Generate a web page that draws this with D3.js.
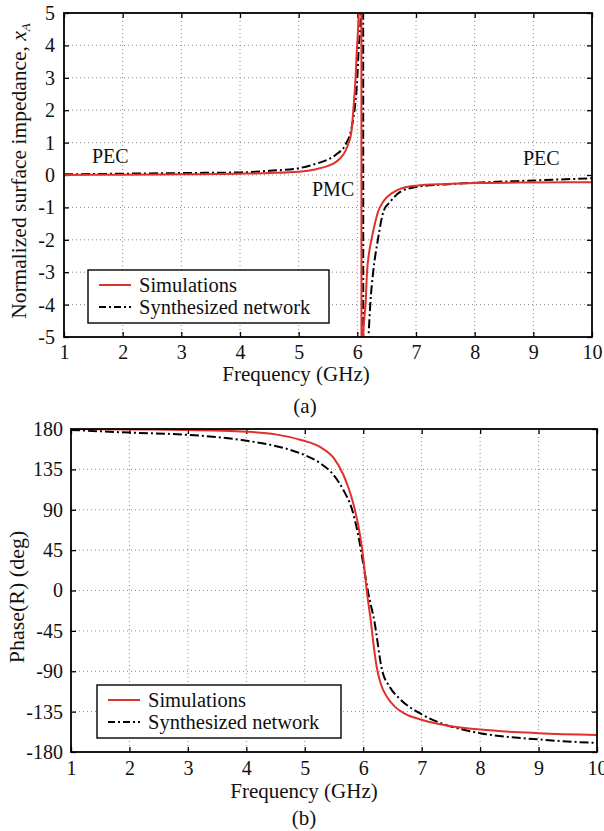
<!DOCTYPE html>
<html>
<head>
<meta charset="utf-8">
<script src="https://cdn.jsdelivr.net/npm/d3@7"></script>
<style>
  html, body { margin: 0; padding: 0; background: #fff; }
  svg text { font-family: "Liberation Serif", Tinos, "Times New Roman", Times, "DejaVu Serif", "Noto Serif", serif !important; }
</style>
</head>
<body>
<svg id="fig" width="604" height="831"></svg>
<script>
// ---- (a) normalized surface impedance x_A vs frequency ----
const freqSimA = [1, 2, 3, 4, 4.5, 5, 5.3, 5.5, 5.6, 5.7, 5.8, 5.85, 5.9, 5.94, 5.97, 5.99, 6.02, 6.04, 6.065,
                  6.075, 6.10, 6.12, 6.14, 6.165, 6.2, 6.24, 6.3, 6.35, 6.45, 6.6, 6.73, 7, 7.5, 8, 9, 10];
const simA     = [0, 0.01, 0.02, 0.04, 0.06, 0.1, 0.18, 0.28, 0.36, 0.5, 0.75, 0.98, 1.35, 2.2, 3.0, 3.8, 4.8, 6, 30,
                  -30, -5, -4.4, -4, -3, -2.4, -2, -1.5, -1.15, -0.8, -0.55, -0.43, -0.33, -0.28, -0.25, -0.23, -0.22];

const freqNetA = [1, 2, 3, 4, 4.5, 5, 5.3, 5.5, 5.65, 5.8, 5.9, 5.97, 6.0, 6.02, 6.06, 6.08, 6.095,
                  6.105, 6.16, 6.19, 6.22, 6.27, 6.35, 6.45, 6.55, 6.73, 7, 7.5, 8, 9, 10];
const netA     = [0.02, 0.04, 0.06, 0.08, 0.13, 0.21, 0.35, 0.48, 0.65, 0.94, 1.44, 2.3, 3.0, 3.8, 5, 8, 30,
                  -30, -6, -5, -4, -3, -2, -1.1, -0.85, -0.52, -0.37, -0.29, -0.24, -0.17, -0.1];

// ---- (b) reflection phase vs frequency ----
const freqSimB = [1, 2, 3, 4, 4.5, 4.92, 5.26, 5.49, 5.66, 5.75, 5.83, 5.95, 6.0, 6.06, 6.13, 6.18, 6.23, 6.3,
                  6.41, 6.55, 6.7, 7, 7.38, 8, 9, 10];
const simB     = [180, 179.5, 179, 177, 174, 168, 160, 148, 129, 114, 97, 60, 37, 0, -34, -62, -85, -104,
                  -119, -130, -137, -144, -150, -155, -159, -161];

const freqNetB = [1, 2, 3, 4, 4.5, 4.92, 5.26, 5.49, 5.66, 5.81, 5.92, 6.0, 6.09, 6.19, 6.32, 6.46, 6.63,
                  7, 7.38, 8, 9, 10];
const netB     = [179, 176, 173.5, 167, 161, 153, 142, 129, 112, 90, 60, 30, -4, -34, -88, -108, -121,
                  -138, -149, -159, -166, -170];

const freqTicks = [1, 2, 3, 4, 5, 6, 7, 8, 9, 10];
const impTicks = [-5, -4, -3, -2, -1, 0, 1, 2, 3, 4, 5];
const phaseTicks = [-180, -135, -90, -45, 0, 45, 90, 135, 180];
const seriesNames = ["Simulations", "Synthesized network"];

const RED = "#e0312b";
const DASHDOT = "9,3,2,3";
const svg = d3.select("#fig");

function panel(opts) {
  const { x, y, xTicks, yTicks, xPad, yPad, id } = opts;
  const [x0, x1] = x.range();
  const [y0, y1] = y.range(); // y0 bottom, y1 top
  const g = svg.append("g");

  // dotted grid
  g.append("g").selectAll("line").data(xTicks.slice(1, -1)).join("line")
    .attr("x1", d => x(d)).attr("x2", d => x(d)).attr("y1", y1).attr("y2", y0)
    .attr("stroke", "#8a8a8a").attr("stroke-width", 1).attr("stroke-dasharray", "1,3");
  g.append("g").selectAll("line").data(yTicks.slice(1, -1)).join("line")
    .attr("x1", x0).attr("x2", x1).attr("y1", d => y(d)).attr("y2", d => y(d))
    .attr("stroke", "#8a8a8a").attr("stroke-width", 1).attr("stroke-dasharray", "1,3");

  // axes with inward ticks on all four sides
  const axB = g.append("g").attr("transform", `translate(0,${y0})`)
    .call(d3.axisBottom(x).tickValues(xTicks).tickSize(-5).tickPadding(xPad).tickFormat(d3.format("d")));
  const axL = g.append("g").attr("transform", `translate(${x0},0)`)
    .call(d3.axisLeft(y).tickValues(yTicks).tickSize(-5).tickPadding(yPad).tickFormat(d => String(d)));
  const axT = g.append("g").attr("transform", `translate(0,${y1})`)
    .call(d3.axisTop(x).tickValues(xTicks).tickSize(-5).tickFormat(""));
  const axR = g.append("g").attr("transform", `translate(${x1},0)`)
    .call(d3.axisRight(y).tickValues(yTicks).tickSize(-5).tickFormat(""));
  [axB, axL, axT, axR].forEach(a => {
    a.select(".domain").remove();
    a.selectAll(".tick line").attr("stroke", "#000").attr("stroke-width", 1.3);
    a.selectAll("text").attr("font-size", 20).attr("fill", "#111");
  });

  // clip region for the curves
  svg.append("clipPath").attr("id", id).append("rect")
    .attr("x", x0).attr("y", y1).attr("width", x1 - x0).attr("height", y0 - y1);

  return { g, frame: () => g.append("rect").attr("x", x0).attr("y", y1)
      .attr("width", x1 - x0).attr("height", y0 - y1)
      .attr("fill", "none").attr("stroke", "#000").attr("stroke-width", 1.8) };
}

function curve(p, x, y, fx, fy, id, color, dash) {
  const line = d3.line().x((d, i) => x(fx[i])).y(d => y(d)).curve(d3.curveMonotoneX);
  p.g.append("path").datum(fy).attr("d", line)
    .attr("clip-path", `url(#${id})`)
    .attr("fill", "none").attr("stroke", color).attr("stroke-width", 2)
    .attr("stroke-dasharray", dash || null).attr("stroke-linejoin", "round");
}

function legend(g, lx, ly, w, h) {
  const lg = g.append("g");
  lg.append("rect").attr("x", lx).attr("y", ly).attr("width", w).attr("height", h)
    .attr("fill", "#fff").attr("stroke", "#000").attr("stroke-width", 1.4);
  const styles = [{ c: RED, d: null }, { c: "#000", d: "7,3,2,3" }];
  seriesNames.forEach((name, i) => {
    const yy = ly + 15 + i * 22;
    lg.append("line").attr("x1", lx + 11).attr("x2", lx + 43).attr("y1", yy).attr("y2", yy)
      .attr("stroke", styles[i].c).attr("stroke-width", 2).attr("stroke-dasharray", styles[i].d);
    lg.append("text").attr("x", lx + 51).attr("y", yy + 7).attr("font-size", 20.5).attr("fill", "#111")
      .text(name);
  });
}

// ---------- panel (a) ----------
const xA = d3.scaleLinear().domain([1, 10]).range([64, 592]);
const yA = d3.scaleLinear().domain([-5, 5]).range([337, 13]);
const pA = panel({ x: xA, y: yA, xTicks: freqTicks, yTicks: impTicks, xPad: 8, yPad: 9, id: "clipA" });
curve(pA, xA, yA, freqNetA, netA, "clipA", "#000", DASHDOT);
curve(pA, xA, yA, freqSimA, simA, "clipA", RED, null);
pA.frame();
legend(pA.g, 88, 270, 241, 53);

const ann = [["PEC", 92, 163], ["PMC", 312, 196], ["PEC", 523, 165]];
pA.g.selectAll("text.ann").data(ann).join("text").attr("class", "ann")
  .attr("x", d => d[1]).attr("y", d => d[2]).attr("font-size", 20).attr("fill", "#111").text(d => d[0]);

pA.g.append("text").attr("x", 296).attr("y", 381).attr("text-anchor", "middle")
  .attr("font-size", 21).attr("fill", "#111").text("Frequency (GHz)");
const ytA = pA.g.append("text").attr("transform", "translate(26,171) rotate(-90)")
  .attr("text-anchor", "middle").attr("font-size", 21.5).attr("fill", "#111");
ytA.append("tspan").text("Normalized surface impedance, ");
ytA.append("tspan").attr("font-style", "italic").text("x");
ytA.append("tspan").attr("font-style", "italic").attr("font-size", 13).attr("dy", 4).text("A");
svg.append("text").attr("x", 305).attr("y", 413).attr("text-anchor", "middle")
  .attr("font-size", 21).attr("fill", "#111").text("(a)");

// ---------- panel (b) ----------
const xB = d3.scaleLinear().domain([1, 10]).range([71, 597]);
const yB = d3.scaleLinear().domain([-180, 180]).range([752, 429]);
const pB = panel({ x: xB, y: yB, xTicks: freqTicks, yTicks: phaseTicks, xPad: 9, yPad: 8, id: "clipB" });
curve(pB, xB, yB, freqNetB, netB, "clipB", "#000", DASHDOT);
curve(pB, xB, yB, freqSimB, simB, "clipB", RED, null);
pB.frame();
legend(pB.g, 97, 685, 244, 53);

pB.g.append("text").attr("x", 304).attr("y", 798).attr("text-anchor", "middle")
  .attr("font-size", 21).attr("fill", "#111").text("Frequency (GHz)");
pB.g.append("text").attr("transform", "translate(24,597) rotate(-90)")
  .attr("text-anchor", "middle").attr("font-size", 22).attr("fill", "#111").text("Phase(R) (deg)");
svg.append("text").attr("x", 304).attr("y", 825).attr("text-anchor", "middle")
  .attr("font-size", 21).attr("fill", "#111").text("(b)");
</script>
</body>
</html>
